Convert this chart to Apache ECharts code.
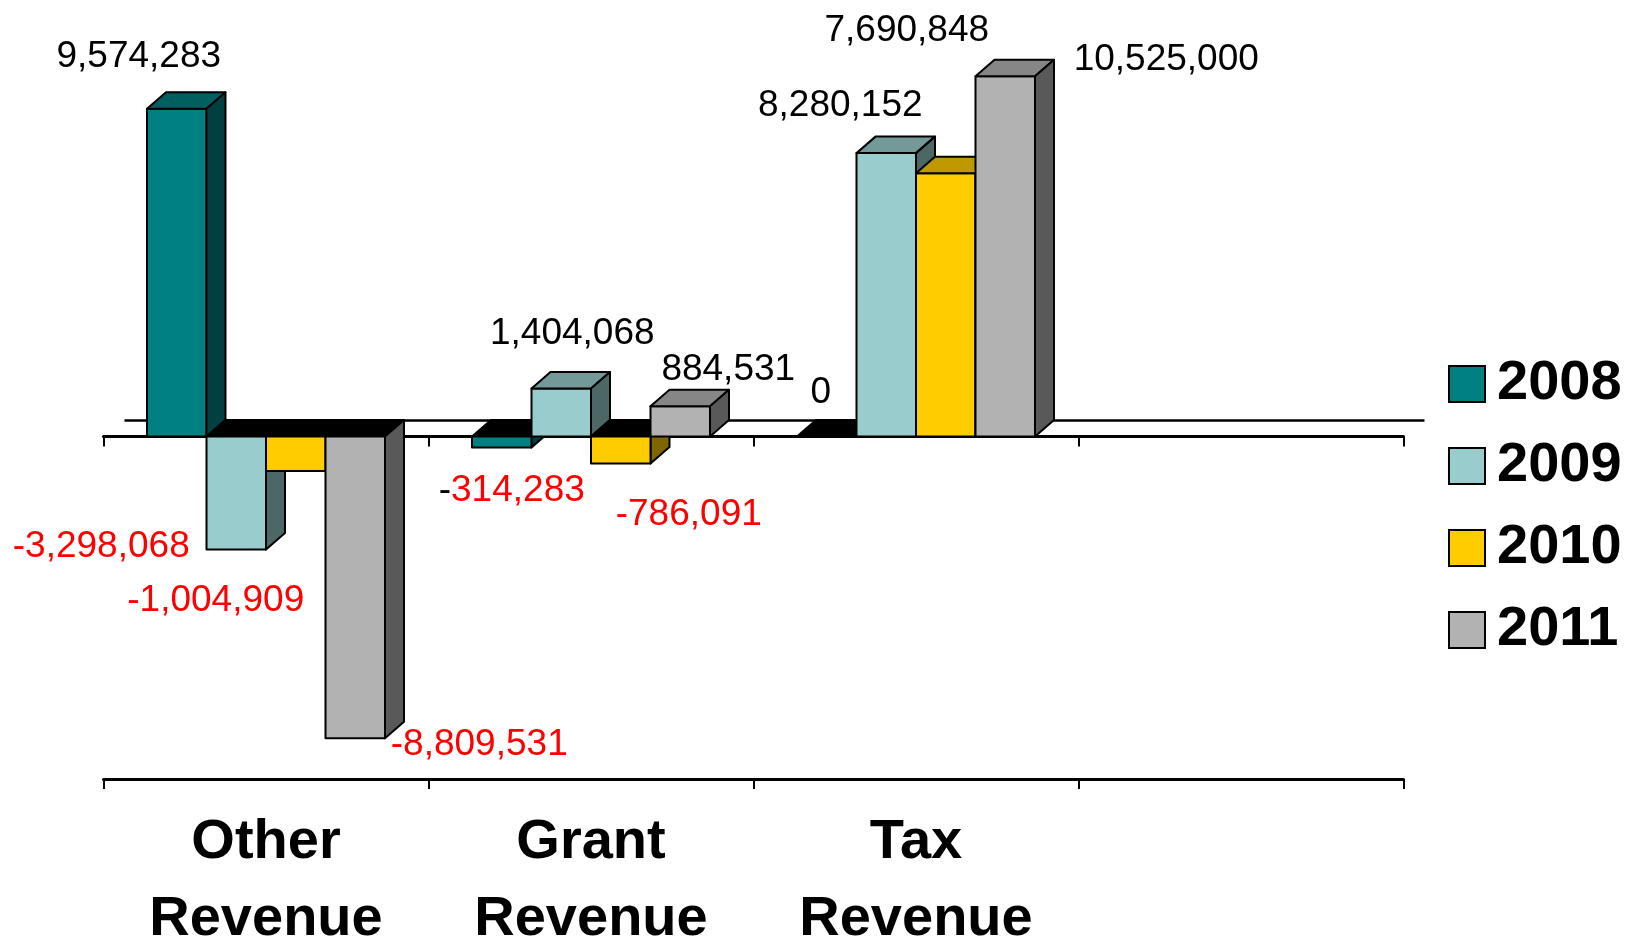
<!DOCTYPE html>
<html>
<head>
<meta charset="utf-8">
<script src="https://cdn.jsdelivr.net/npm/echarts@6/dist/echarts.min.js"></script>
<style>
html,body{margin:0;padding:0;background:#fff;}
#chart{width:1642px;height:941px;}
</style>
</head>
<body>
<div id="chart"></div>
<script>
// ---- data ----
const categories = ['Other\nRevenue', 'Grant\nRevenue', 'Tax\nRevenue', ''];
const years = ['2008', '2009', '2010', '2011'];
const v2008 = [9574283, -314283, 0];
const v2009 = [-3298068, 1404068, 8280152];
const v2010 = [-1004909, -786091, 7690848];
const v2011 = [-8809531, 884531, 10525000];
const seriesValues = [v2008, v2009, v2010, v2011];

// ---- styling / layout ----
const frontColors = ['#008080', '#99CCCC', '#FFCC00', '#B2B2B2'];
const topColors   = ['#006060', '#739999', '#BF9900', '#868686'];
const sideColors  = ['#004040', '#4D6666', '#806600', '#595959'];
const GROUP = 0.7323;   // share of a category taken by the 4 bars
const DX = 19, DY = 16.5; // 3D depth of bars
const BACK_DX = 21, BACK_DY = 16;
const LABEL_SHIFT_Y = 3;
const FONT = "'Liberation Sans', Arial, sans-serif";
// label offsets [dx, dy] from bar front-centre at the value end, per series then category
const labelOffsets = [
  [[-38, -55], [10, 40], [-6, -47]],
  [[-135, -6], [11, -58], [-46, -50]],
  [[-80, 127], [68, 48], [-39, -146]],
  [[124, 4], [48, -40], [161, -19]]
];
const blackMinus = { '0-1': true };

function fmt(n) {
  const s = String(Math.abs(n)).replace(/\B(?=(\d{3})+(?!\d))/g, ',');
  return (n < 0 ? '-' : '') + s;
}

function makeRender(si) {
  return function (params, api) {
    const ci = api.value(0), v = api.value(1);
    const zero = api.coord([ci, 0]);
    const pt = api.coord([ci, v]);
    const cw = api.size([1, 0])[0];
    const gw = cw * GROUP;
    const bw = gw / 4;
    const x0 = zero[0] - gw / 2 + si * bw, x1 = x0 + bw;
    const yz = zero[1], yv = pt[1];
    const base = { stroke: '#000', lineWidth: 2, lineJoin: 'round' };
    const ch = [];
    if (v > 0) {
      ch.push({ type: 'rect', shape: { x: x0, y: yv, width: bw, height: yz - yv },
        style: Object.assign({ fill: frontColors[si] }, base) });
      ch.push({ type: 'polygon', shape: { points: [[x0, yv], [x0 + DX, yv - DY], [x1 + DX, yv - DY], [x1, yv]] },
        style: Object.assign({ fill: topColors[si] }, base) });
      ch.push({ type: 'polygon', shape: { points: [[x1, yv], [x1 + DX, yv - DY], [x1 + DX, yz - DY], [x1, yz]] },
        style: Object.assign({ fill: sideColors[si] }, base) });
    } else {
      ch.push({ type: 'polygon', shape: { points: [[x0, yz], [x0 + DX, yz - DY], [x1 + DX, yz - DY], [x1, yz]] },
        style: Object.assign({ fill: '#000' }, base) });
      if (yv - yz > 0.5) {
        ch.push({ type: 'polygon', shape: { points: [[x1, yz], [x1 + DX, yz - DY], [x1 + DX, yv - DY], [x1, yv]] },
          style: Object.assign({ fill: sideColors[si] }, base) });
        ch.push({ type: 'rect', shape: { x: x0, y: yz, width: bw, height: yv - yz },
          style: Object.assign({ fill: frontColors[si] }, base) });
      }
    }
    const off = labelOffsets[si][ci];
    const cx = (x0 + x1) / 2 + off[0], cy = yv + off[1] + LABEL_SHIFT_Y;
    const txt = fmt(v);
    let style;
    if (v < 0 && blackMinus[si + '-' + ci]) {
      style = { text: '{k|-}{r|' + txt.slice(1) + '}', x: cx, y: cy, align: 'center', verticalAlign: 'middle',
        font: '37px ' + FONT, rich: { k: { fill: '#000', fontSize: 37, fontFamily: FONT }, r: { fill: '#FF0000', fontSize: 37, fontFamily: FONT } } };
    } else {
      style = { text: txt, x: cx, y: cy, align: 'center', verticalAlign: 'middle',
        fill: v < 0 ? '#FF0000' : '#000', fontSize: 37, fontFamily: FONT };
    }
    ch.push({ type: 'text', z2: 100, style: style });
    return { type: 'group', children: ch };
  };
}

const series = [{
  name: 'floor', type: 'custom', data: [[0, 0]], silent: true,
  renderItem: function (params, api) {
    const cs = params.coordSys;
    const yz = api.coord([0, 0])[1];
    return { type: 'line', shape: { x1: cs.x + BACK_DX, y1: yz - BACK_DY, x2: cs.x + cs.width + BACK_DX, y2: yz - BACK_DY },
      style: { stroke: '#000', lineWidth: 2.5 } };
  }
}];
seriesValues.forEach(function (vals, si) {
  series.push({
    name: years[si], type: 'custom',
    itemStyle: { color: frontColors[si] },
    encode: { x: 0, y: 1 },
    data: vals.map(function (v, ci) { return [ci, v]; }),
    renderItem: makeRender(si)
  });
});

const chart = echarts.init(document.getElementById('chart'));
chart.setOption({
  animation: false,
  backgroundColor: '#fff',
  grid: { left: 103.5, width: 1300, top: 60, height: 719, containLabel: false, outerBoundsMode: 'none' },
  legend: {
    orient: 'vertical', left: 1443, top: 351,
    data: years, icon: 'rect', itemWidth: 36, itemHeight: 36, itemGap: 26,
    itemStyle: { borderColor: '#000', borderWidth: 2 },
    textStyle: { fontSize: 56, fontWeight: 'bold', fontFamily: FONT, color: '#000', lineHeight: 56, padding: [0, 0, 0, 7] }
  },
  xAxis: [{
    type: 'category', data: categories, position: 'bottom', boundaryGap: true,
    axisLine: { show: true, onZero: false, lineStyle: { color: '#000', width: 3 } },
    axisTick: { show: true, interval: 0, length: 10, lineStyle: { color: '#000', width: 2 } },
    axisLabel: { fontSize: 56, fontWeight: 'bold', fontFamily: FONT, color: '#000', lineHeight: 77, margin: 25, interval: 0 },
    splitLine: { show: false }
  }, {
    type: 'category', data: categories, position: 'bottom', boundaryGap: true,
    axisLine: { show: true, onZero: true, lineStyle: { color: '#000', width: 3 } },
    axisTick: { show: true, interval: 0, length: 10, lineStyle: { color: '#000', width: 2 } },
    axisLabel: { show: false },
    splitLine: { show: false }
  }],
  yAxis: { type: 'value', min: -10000000, max: 11000000, show: false, splitLine: { show: false } },
  series: series
});
</script>
</body>
</html>
